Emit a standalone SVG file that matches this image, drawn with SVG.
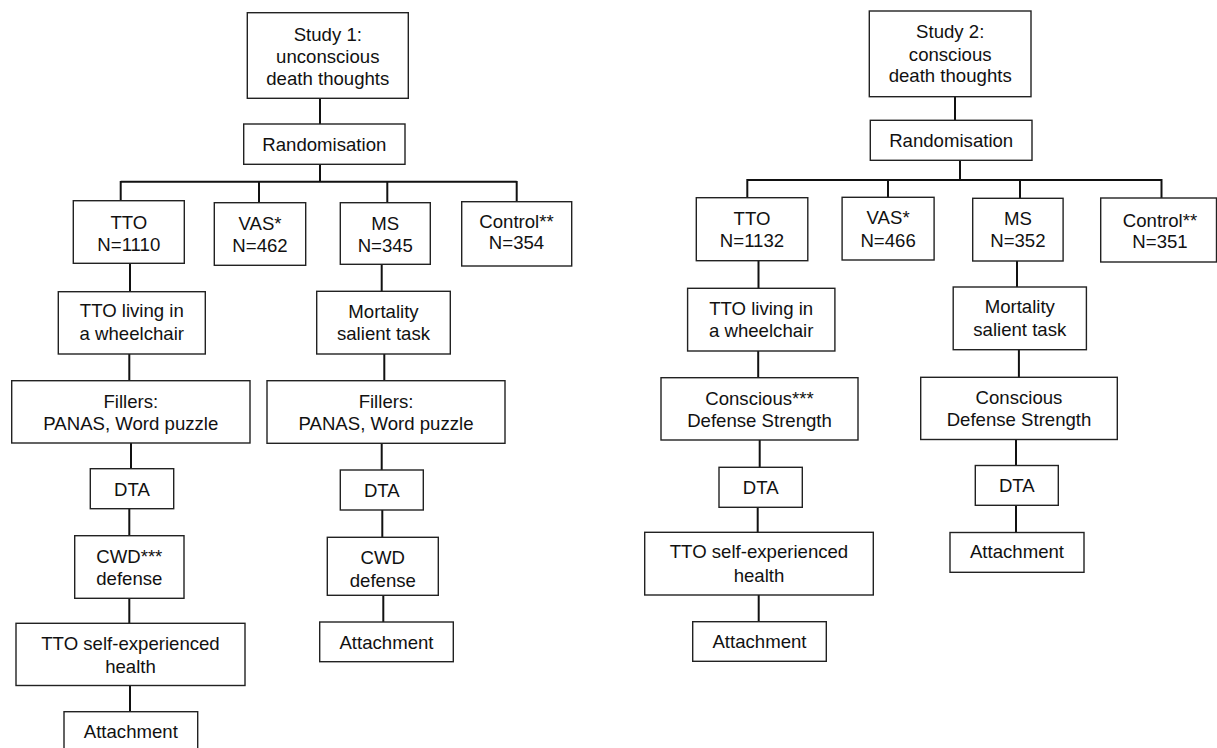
<svg xmlns="http://www.w3.org/2000/svg" width="1217" height="748" viewBox="0 0 1217 748">
<style>
.b{fill:#fff;stroke:#222;stroke-width:1.4}
.t{font-family:"Liberation Sans",Arial,sans-serif;font-size:18.6px;fill:#111;text-anchor:middle}
.c line,.c polyline{stroke:#111;stroke-width:2;fill:none}
</style>
<rect width="1217" height="748" fill="#fff"/>
<g class="c" id="connectors">
<line x1="320" y1="98" x2="320" y2="124"/>
<line x1="320" y1="164" x2="320" y2="182"/>
<line x1="120.7" y1="181.7" x2="516.7" y2="181.7"/>
<line x1="120.7" y1="181" x2="120.7" y2="201"/>
<line x1="259" y1="181" x2="259" y2="203"/>
<line x1="387.3" y1="181" x2="387.3" y2="203"/>
<line x1="516.7" y1="181" x2="516.7" y2="202"/>
<line x1="130" y1="263" x2="130" y2="292"/>
<line x1="129.3" y1="354" x2="129.3" y2="381"/>
<line x1="131" y1="443" x2="131" y2="469"/>
<line x1="129.3" y1="508.7" x2="129.3" y2="536"/>
<line x1="129.3" y1="598" x2="129.3" y2="623.5"/>
<line x1="130" y1="685.5" x2="130" y2="712"/>
<line x1="381.7" y1="264" x2="381.7" y2="291.5"/>
<line x1="384.3" y1="354" x2="384.3" y2="381"/>
<line x1="381.7" y1="443" x2="381.7" y2="470"/>
<line x1="382.3" y1="510" x2="382.3" y2="537.5"/>
<line x1="383.3" y1="595" x2="383.3" y2="622"/>
<line x1="955" y1="96.7" x2="955" y2="120.5"/>
<line x1="960" y1="160" x2="960" y2="180"/>
<line x1="747.3" y1="180" x2="1161.5" y2="180"/>
<line x1="747.3" y1="179" x2="747.3" y2="198"/>
<line x1="888" y1="179" x2="888" y2="197.5"/>
<line x1="1020" y1="179" x2="1020" y2="198.5"/>
<line x1="1161.5" y1="179" x2="1161.5" y2="198"/>
<line x1="758.5" y1="260.7" x2="758.5" y2="288.5"/>
<line x1="758.2" y1="351" x2="758.2" y2="378"/>
<line x1="759.7" y1="440" x2="759.7" y2="467.5"/>
<line x1="757.7" y1="507.3" x2="757.7" y2="532.5"/>
<line x1="758.7" y1="595" x2="758.7" y2="622"/>
<line x1="1017" y1="261" x2="1017" y2="287"/>
<line x1="1018.9" y1="349.7" x2="1018.9" y2="377.5"/>
<line x1="1016" y1="439.5" x2="1016" y2="465.5"/>
<line x1="1016" y1="505.3" x2="1016" y2="532.5"/>
</g>
<g id="s1">
<rect class="b" x="247.3" y="12.7" width="161" height="85.6"/>
<text class="t" x="327.8" y="40.7">Study 1:</text>
<text class="t" x="327.8" y="63.3">unconscious</text>
<text class="t" x="327.8" y="85">death thoughts</text>
</g>
<g id="r1">
<rect class="b" x="243.7" y="124" width="161.3" height="40.3"/>
<text class="t" x="324.3" y="150.7">Randomisation</text>
</g>
<g id="tto1">
<rect class="b" x="73.3" y="200.7" width="111" height="62.6"/>
<text class="t" x="128.8" y="229.3">TTO</text>
<text class="t" x="128.8" y="250.7">N=1110</text>
</g>
<g id="vas1">
<rect class="b" x="214.3" y="202.7" width="91.4" height="62.6"/>
<text class="t" x="260" y="230">VAS*</text>
<text class="t" x="260" y="251.7">N=462</text>
</g>
<g id="ms1">
<rect class="b" x="340.3" y="202.7" width="90" height="61.6"/>
<text class="t" x="385.3" y="230">MS</text>
<text class="t" x="385.3" y="251.7">N=345</text>
</g>
<g id="ctrl1">
<rect class="b" x="461.7" y="201.7" width="110" height="64.3"/>
<text class="t" x="516.5" y="227.5">Control**</text>
<text class="t" x="516.5" y="249">N=354</text>
</g>
<g id="wheel1">
<rect class="b" x="58.3" y="291.7" width="147" height="62.3"/>
<text class="t" x="131.8" y="316.7">TTO living in</text>
<text class="t" x="131.8" y="340">a wheelchair</text>
</g>
<g id="fill1">
<rect class="b" x="11.7" y="380.7" width="238.3" height="62.3"/>
<text class="t" x="130.8" y="408.3">Fillers:</text>
<text class="t" x="130.8" y="430">PANAS, Word puzzle</text>
</g>
<g id="dta1">
<rect class="b" x="90.3" y="468.7" width="83.4" height="40"/>
<text class="t" x="132" y="496">DTA</text>
</g>
<g id="cwd1">
<rect class="b" x="74.7" y="535.7" width="109.3" height="62.6"/>
<text class="t" x="129.3" y="563.3">CWD***</text>
<text class="t" x="129.3" y="585">defense</text>
</g>
<g id="self1">
<rect class="b" x="16" y="623.3" width="229" height="62.2"/>
<text class="t" x="130.5" y="650">TTO self-experienced</text>
<text class="t" x="130.5" y="673.3">health</text>
</g>
<g id="att1">
<rect class="b" x="64" y="711.7" width="133.7" height="40"/>
<text class="t" x="130.8" y="738.3">Attachment</text>
</g>
<g id="mort1">
<rect class="b" x="316.7" y="291.3" width="133.6" height="62.7"/>
<text class="t" x="383.5" y="318">Mortality</text>
<text class="t" x="383.5" y="340">salient task</text>
</g>
<g id="fill2">
<rect class="b" x="267" y="380.7" width="238" height="62.6"/>
<text class="t" x="386" y="408.3">Fillers:</text>
<text class="t" x="386" y="430">PANAS, Word puzzle</text>
</g>
<g id="dta2">
<rect class="b" x="340.3" y="470" width="83" height="40"/>
<text class="t" x="381.8" y="496.7">DTA</text>
</g>
<g id="cwd2">
<rect class="b" x="327.3" y="537.3" width="111" height="58"/>
<text class="t" x="382.8" y="564">CWD</text>
<text class="t" x="382.8" y="586.7">defense</text>
</g>
<g id="att2">
<rect class="b" x="319.7" y="622" width="133.6" height="39.7"/>
<text class="t" x="386.5" y="649.3">Attachment</text>
</g>
<g id="s2">
<rect class="b" x="869.3" y="11" width="161.7" height="85.7"/>
<text class="t" x="950.2" y="38.3">Study 2:</text>
<text class="t" x="950.2" y="61">conscious</text>
<text class="t" x="950.2" y="82.3">death thoughts</text>
</g>
<g id="r2">
<rect class="b" x="870.3" y="120.3" width="161.7" height="40"/>
<text class="t" x="951.2" y="146.7">Randomisation</text>
</g>
<g id="tto2">
<rect class="b" x="696.3" y="197.7" width="111.5" height="63"/>
<text class="t" x="752" y="225">TTO</text>
<text class="t" x="752" y="246.7">N=1132</text>
</g>
<g id="vas2">
<rect class="b" x="842.1" y="197.3" width="92" height="62.7"/>
<text class="t" x="888.1" y="224">VAS*</text>
<text class="t" x="888.1" y="246.7">N=466</text>
</g>
<g id="ms2">
<rect class="b" x="972.7" y="198.3" width="90.4" height="62.7"/>
<text class="t" x="1017.9" y="225">MS</text>
<text class="t" x="1017.9" y="247">N=352</text>
</g>
<g id="ctrl2">
<rect class="b" x="1100.7" y="198" width="115.8" height="64"/>
<text class="t" x="1160" y="226.7">Control**</text>
<text class="t" x="1160" y="248.3">N=351</text>
</g>
<g id="wheel2">
<rect class="b" x="687.6" y="288.3" width="147.3" height="62.7"/>
<text class="t" x="761.2" y="315">TTO living in</text>
<text class="t" x="761.2" y="336.7">a wheelchair</text>
</g>
<g id="consc1">
<rect class="b" x="661" y="377.7" width="197" height="62.3"/>
<text class="t" x="759.5" y="405">Conscious***</text>
<text class="t" x="759.5" y="426.7">Defense Strength</text>
</g>
<g id="dta3">
<rect class="b" x="719" y="467.3" width="83.3" height="40"/>
<text class="t" x="760.7" y="494">DTA</text>
</g>
<g id="self2">
<rect class="b" x="644.7" y="532.3" width="228.6" height="62.7"/>
<text class="t" x="759" y="558.3">TTO self-experienced</text>
<text class="t" x="759" y="581.7">health</text>
</g>
<g id="att3">
<rect class="b" x="692.7" y="621.7" width="133.6" height="39.6"/>
<text class="t" x="759.5" y="648.3">Attachment</text>
</g>
<g id="mort2">
<rect class="b" x="953.2" y="287" width="133.2" height="62.7"/>
<text class="t" x="1019.8" y="313.3">Mortality</text>
<text class="t" x="1019.8" y="336">salient task</text>
</g>
<g id="consc2">
<rect class="b" x="920.7" y="377.3" width="196.6" height="62.2"/>
<text class="t" x="1019" y="404">Conscious</text>
<text class="t" x="1019" y="426">Defense Strength</text>
</g>
<g id="dta4">
<rect class="b" x="975.3" y="465.5" width="83" height="39.8"/>
<text class="t" x="1016.8" y="491.7">DTA</text>
</g>
<g id="att4">
<rect class="b" x="950" y="532.5" width="134" height="39.8"/>
<text class="t" x="1017" y="558.3">Attachment</text>
</g>
</svg>
